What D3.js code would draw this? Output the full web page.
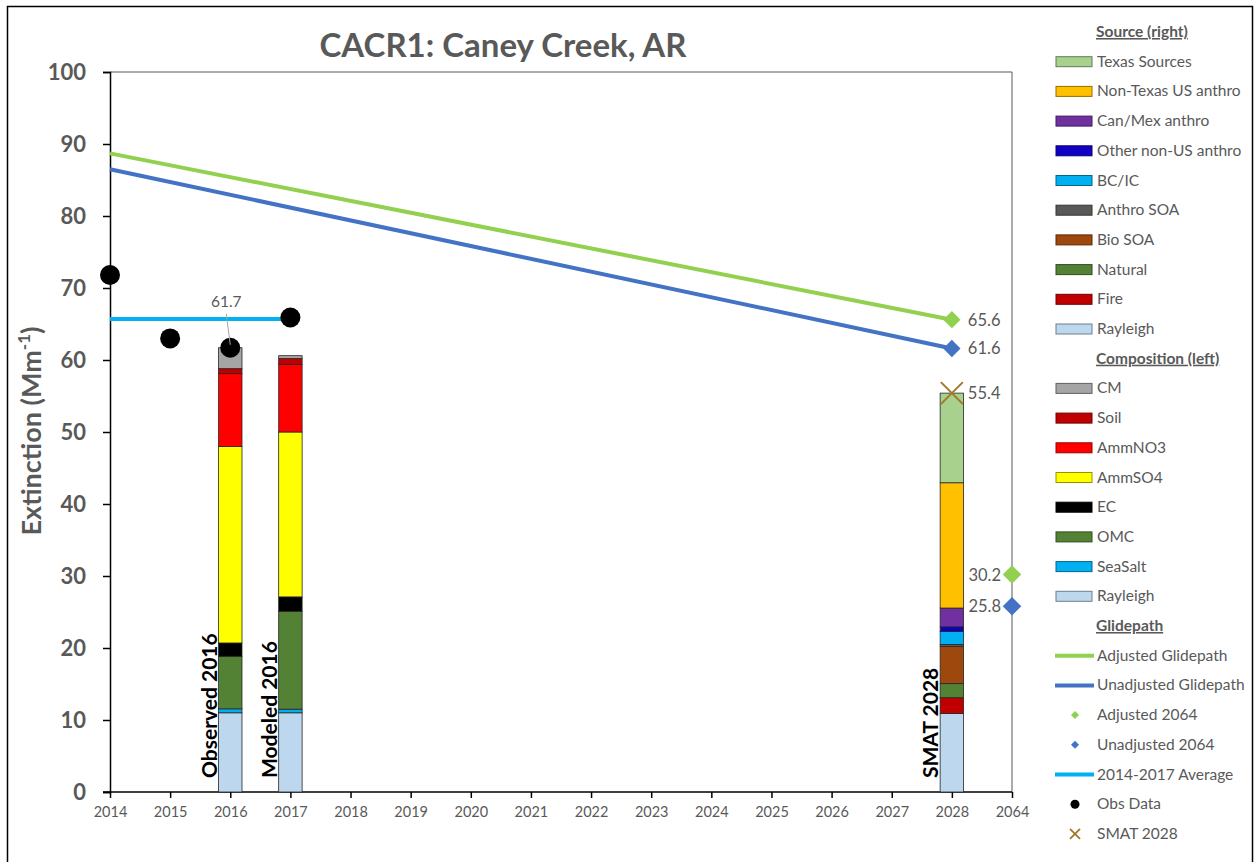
<!DOCTYPE html>
<html>
<head>
<meta charset="utf-8">
<script src="https://cdn.jsdelivr.net/npm/d3@7"></script>
<style>
  body { margin: 0; background: #fff; }
  svg { font-family: Lato, "Open Sans", sans-serif; }
</style>
</head>
<body>
<svg id="chart" width="1255" height="862"></svg>
<script>
// categories on the x axis
const xLabels = ['2014','2015','2016','2017','2018','2019','2020','2021','2022','2023','2024','2025','2026','2027','2028','2064'];

// composition stacks (left legend), bottom to top
const compKeys = ['Rayleigh','SeaSalt','OMC','EC','AmmSO4','AmmNO3','Soil','CM'];
const compColors = ['#BDD7EE','#00B0F0','#548235','#000000','#FFFF00','#FF0000','#C00000','#A5A5A5'];
const observed2016 = [11.0, 0.55, 7.3, 1.85, 27.3, 10.1, 0.7, 2.9];
const modeled2016 = [11.0, 0.5, 13.6, 2.0, 22.9, 9.4, 0.8, 0.4];

// source stack (right legend), bottom to top
const sourceKeys = ['Rayleigh','Fire','Natural','Bio SOA','Anthro SOA','BC/IC','Other non-US anthro','Can/Mex anthro','Non-Texas US anthro','Texas Sources'];
const sourceColors = ['#BDD7EE','#C00000','#548235','#9E480E','#595959','#00B0F0','#1100C4','#7030A0','#FFC000','#A9D18E'];
const smat2028 = [10.9, 2.2, 1.95, 5.15, 0.3, 1.8, 0.65, 2.6, 17.4, 12.45];

// glidepaths
const glideYears = ['2014','2028'];
const adjustedGlide = [88.7, 65.6];
const unadjustedGlide = [86.5, 61.6];
const adjusted2064 = 30.2;
const unadjusted2064 = 25.8;

// observations
const obsYears = ['2014','2015','2016','2017'];
const obsValues = [71.8, 63.0, 61.7, 65.9];
const avgYears = ['2014','2017'];
const avgValue = 65.7;
const smatTotal = 55.4;

const svg = d3.select('#chart');
const grey = '#595959';

const margin = {top: 72, left: 110, right: 1012, bottom: 792};
const x = d3.scaleLinear().domain([0, xLabels.length - 1]).range([margin.left, margin.right]);
const y = d3.scaleLinear().domain([0, 100]).range([margin.bottom, margin.top]);
const xi = lbl => x(xLabels.indexOf(lbl));

// outer border
svg.append('rect').attr('x', 7.5).attr('y', 6.5).attr('width', 1245).attr('height', 860)
  .attr('fill', 'none').attr('stroke', '#000').attr('stroke-width', 1.5);

// plot frame top/right
svg.append('path')
  .attr('d', `M${margin.left},${y(100)}H${margin.right}V${y(0)}`)
  .attr('fill', 'none').attr('stroke', '#595959').attr('stroke-width', 1);

// title
svg.append('text').attr('x', 503).attr('y', 57).attr('text-anchor', 'middle')
  .attr('font-size', 33).attr('font-weight', 'bold').attr('fill', grey)
  .text('CACR1: Caney Creek, AR');

// y axis
const yAxis = svg.append('g').attr('transform', `translate(${margin.left},0)`)
  .call(d3.axisLeft(y).tickValues(d3.range(0, 101, 10)).tickSize(7).tickPadding(17));
yAxis.select('.domain').attr('stroke', '#000').attr('stroke-width', 1.5);
yAxis.selectAll('.tick line').attr('stroke', '#000').attr('stroke-width', 1.5);
yAxis.selectAll('.tick text').attr('font-size', 22).attr('font-weight', 'bold').attr('fill', grey)
  .attr('font-family', 'Lato, sans-serif');

// x axis
const xAxis = svg.append('g').attr('transform', `translate(0,${margin.bottom})`)
  .call(d3.axisBottom(x).tickValues(d3.range(xLabels.length)).tickFormat(i => xLabels[i]).tickSize(6).tickPadding(9).tickSizeOuter(0));
xAxis.select('.domain').attr('stroke', '#000').attr('stroke-width', 1.5).attr('d', `M${margin.left - 7},0H${margin.right}`);
xAxis.selectAll('.tick line').attr('stroke', '#000').attr('stroke-width', 1.5);
xAxis.selectAll('.tick text').attr('font-size', 14.5).attr('fill', grey).attr('font-family', 'Lato, sans-serif');

// y axis title
const yt = svg.append('text').attr('transform', 'translate(41,431) rotate(-90)')
  .attr('text-anchor', 'middle').attr('font-size', 27).attr('font-weight', 'bold').attr('fill', grey);
yt.append('tspan').text('Extinction (Mm');
yt.append('tspan').attr('dy', -11).attr('font-size', 17).text('-1');
yt.append('tspan').attr('dy', 11).text(')');

// stacked bars
const barW = (x(1) - x(0)) * 0.39;
function drawStack(values, colors, cat, label) {
  const cx = xi(cat);
  let acc = 0;
  const segs = values.map((v, i) => { const s = {y0: acc, y1: acc + v, c: colors[i]}; acc += v; return s; });
  svg.append('g').selectAll('rect').data(segs).join('rect')
    .attr('x', cx - barW / 2).attr('width', barW)
    .attr('y', d => y(d.y1)).attr('height', d => y(d.y0) - y(d.y1))
    .attr('fill', d => d.c).attr('stroke', '#262626').attr('stroke-width', 0.8);
  svg.append('text').attr('transform', `translate(${cx - barW / 2 - 2},778) rotate(-90)`)
    .attr('font-size', 21).attr('font-weight', 'bold').attr('fill', '#000').text(label);
}
drawStack(observed2016, compColors, '2016', 'Observed 2016');
drawStack(modeled2016, compColors, '2017', 'Modeled 2016');
drawStack(smat2028, sourceColors, '2028', 'SMAT 2028');

// glidepath lines
const line = d3.line().x(d => xi(d[0])).y(d => y(d[1]));
const diamond = size => d3.symbol().type(d3.symbolSquare).size(size)();
function glide(vals, color) {
  const pts = glideYears.map((yr, i) => [yr, vals[i]]);
  svg.append('path').attr('d', line(pts)).attr('fill', 'none').attr('stroke', color).attr('stroke-width', 4);
  const last = pts[pts.length - 1];
  svg.append('path').attr('d', diamond(150)).attr('transform', `translate(${xi(last[0])},${y(last[1])}) rotate(45)`).attr('fill', color);
  svg.append('text').attr('x', xi(last[0]) + 16).attr('y', y(last[1]) + 6).attr('font-size', 16.5).attr('fill', grey).text(last[1].toFixed(1));
}
glide(adjustedGlide, '#92D050');
glide(unadjustedGlide, '#4472C4');

// 2064 targets
[[adjusted2064, '#92D050'], [unadjusted2064, '#4472C4']].forEach(([v, c]) => {
  svg.append('text').attr('x', xi('2064') - 11).attr('y', y(v) + 6).attr('text-anchor', 'end')
    .attr('font-size', 16.5).attr('fill', grey).text(v.toFixed(1));
  svg.append('path').attr('d', diamond(170)).attr('transform', `translate(${xi('2064')},${y(v)}) rotate(45)`).attr('fill', c);
});

// 2014-2017 average
svg.append('path').attr('d', line(avgYears.map(yr => [yr, avgValue])))
  .attr('fill', 'none').attr('stroke', '#00B0F0').attr('stroke-width', 4);

// obs data
svg.append('g').selectAll('circle').data(obsYears).join('circle')
  .attr('cx', d => xi(d)).attr('cy', (d, i) => y(obsValues[i])).attr('r', 10).attr('fill', '#000');

// 61.7 label with leader
const oi = obsYears.indexOf('2016');
svg.append('line').attr('x1', xi('2016') - 4).attr('y1', y(obsValues[oi]) - 34).attr('x2', xi('2016')).attr('y2', y(obsValues[oi]) - 3)
  .attr('stroke', '#A6A6A6').attr('stroke-width', 1);
svg.append('text').attr('x', xi('2016') - 4).attr('y', y(obsValues[oi]) - 41).attr('text-anchor', 'middle')
  .attr('font-size', 15.5).attr('fill', grey).text(obsValues[oi].toFixed(1));

// SMAT 2028 x marker
const xs = 11;
svg.append('path').attr('transform', `translate(${xi('2028')},${y(smatTotal)})`)
  .attr('d', `M${-xs},${-xs}L${xs},${xs}M${-xs},${xs}L${xs},${-xs}`)
  .attr('stroke', '#A07A28').attr('stroke-width', 2);
svg.append('text').attr('x', xi('2028') + 16).attr('y', y(smatTotal) + 6).attr('font-size', 16.5).attr('fill', grey).text(smatTotal.toFixed(1));

// legend
const legendRows = [
  {type: 'header', label: 'Source (right)'},
  ...sourceKeys.map((k, i) => ({type: 'box', label: k, color: sourceColors[i]})).reverse(),
  {type: 'header', label: 'Composition (left)'},
  ...compKeys.map((k, i) => ({type: 'box', label: k, color: compColors[i]})).reverse(),
  {type: 'header', label: 'Glidepath'},
  {type: 'line', label: 'Adjusted Glidepath', color: '#92D050'},
  {type: 'line', label: 'Unadjusted Glidepath', color: '#4472C4'},
  {type: 'diamond', label: 'Adjusted 2064', color: '#92D050'},
  {type: 'diamond', label: 'Unadjusted 2064', color: '#4472C4'},
  {type: 'line', label: '2014-2017 Average', color: '#00B0F0'},
  {type: 'dot', label: 'Obs Data', color: '#000'},
  {type: 'x', label: 'SMAT 2028', color: '#A07A28'}
];
const lg = svg.append('g');
legendRows.forEach((r, i) => {
  const ry = 32 + i * 29.7;
  const g = lg.append('g').attr('transform', `translate(0,${ry})`);
  if (r.type === 'header') {
    g.append('text').attr('x', 1096).attr('y', 5).attr('font-size', 15.5).attr('font-weight', 'bold')
      .attr('fill', grey).attr('text-decoration', 'underline').text(r.label);
    return;
  }
  if (r.type === 'box') {
    g.append('rect').attr('x', 1056).attr('y', -5).attr('width', 36).attr('height', 10)
      .attr('fill', r.color).attr('stroke', d3.color(r.color).darker(1.5)).attr('stroke-width', 1);
  } else if (r.type === 'line') {
    g.append('line').attr('x1', 1055).attr('x2', 1094).attr('y1', 0).attr('y2', 0)
      .attr('stroke', r.color).attr('stroke-width', 4);
  } else if (r.type === 'diamond') {
    g.append('path').attr('d', diamond(32)).attr('transform', 'translate(1075,0) rotate(45)').attr('fill', r.color);
  } else if (r.type === 'dot') {
    g.append('circle').attr('cx', 1075).attr('cy', 0).attr('r', 4.5).attr('fill', r.color);
  } else if (r.type === 'x') {
    g.append('path').attr('transform', 'translate(1075,0)').attr('d', 'M-5,-5L5,5M-5,5L5,-5')
      .attr('stroke', r.color).attr('stroke-width', 1.8);
  }
  g.append('text').attr('x', 1097).attr('y', 5).attr('font-size', 15.5).attr('fill', grey).text(r.label);
});
</script>
</body>
</html>
